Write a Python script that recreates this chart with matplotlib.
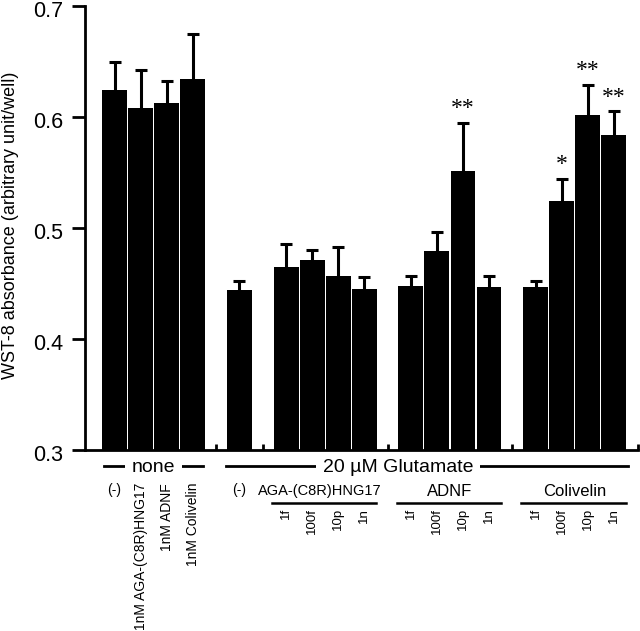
import numpy as np
from matplotlib import pyplot as plt
from matplotlib.transforms import ScaledTranslation

# --- data ---------------------------------------------------------
none_means = [0.624, 0.608, 0.613, 0.634]
none_errs = [0.026, 0.034, 0.019, 0.041]
none_labels = ['(-)', '1nM AGA-(C8R)HNG17', '1nM ADNF', '1nM Colivelin']

glu_mean = [0.444]
glu_err = [0.008]

aga_means = [0.465, 0.471, 0.457, 0.445]
aga_errs = [0.021, 0.009, 0.026, 0.011]
adnf_means = [0.448, 0.479, 0.551, 0.447]
adnf_errs = [0.009, 0.017, 0.044, 0.010]
col_means = [0.447, 0.524, 0.602, 0.584]
col_errs = [0.005, 0.020, 0.027, 0.021]
doses = ['1f', '100f', '10p', '1n']
peptides = ['AGA-(C8R)HNG17', 'ADNF', 'Colivelin']

adnf_sig = ['', '', '**', '']
col_sig = ['', '*', '**', '**']

# --- layout -------------------------------------------------------
gap = 1.8
groups = [none_means, glu_mean, aga_means, adnf_means, col_means]
errs = [none_errs, glu_err, aga_errs, adnf_errs, col_errs]
pos = []
start = 0.0
for g in groups:
    pos.append(start + np.arange(len(g)))
    start = pos[-1][-1] + gap
allx = np.concatenate(pos)
ally = np.concatenate(groups)
alle = np.concatenate(errs)

plt.rcParams['font.family'] = ['Liberation Sans', 'DejaVu Sans']
fig = plt.figure(figsize=(6.4, 6.31), dpi=100, facecolor='w')
ax = fig.add_axes([85/640, 1-450/631, (638-85)/640, 444/631])

ax.errorbar(allx, ally, yerr=alle, fmt='none', ecolor='k', elinewidth=2.2,
            capsize=4, capthick=2.2, zorder=1)
ax.bar(allx, ally - 0.3, bottom=0.3, width=0.96, color='k', zorder=2)

ax.set_ylim(0.3, 0.7)
ax.set_xlim(-1.135, 20.13)
ax.set_yticks([0.3, 0.4, 0.5, 0.6, 0.7])
ax.set_yticklabels(['0.3', '0.4', '0.5', '0.6', '0.7'], fontsize=15.5)
ax.tick_params(axis='y', length=9.5, width=2, direction='out', pad=6)
# labels sit a few pixels below their ticks in the original
shift = ScaledTranslation(0, -3/100, fig.dpi_scale_trans)
for lab in ax.get_yticklabels():
    lab.set_transform(lab.get_transform() + shift)
bounds = [(pos[i][-1] + pos[i+1][0]) / 2 for i in range(len(pos)-1)] + [20.13]
ax.set_xticks(bounds)
ax.set_xticklabels([])
ax.tick_params(axis='x', length=4, width=2, direction='in')
for s in ['top', 'right']:
    ax.spines[s].set_visible(False)
ax.spines['left'].set_linewidth(2)
ax.spines['bottom'].set_linewidth(2)
ax.set_ylabel('WST-8 absorbance (arbitrary unit/well)', fontsize=13)
ax.yaxis.set_label_coords(-0.12, 0.507)

# significance stars
for xs, ms, es, sig in [(pos[3], adnf_means, adnf_errs, adnf_sig),
                        (pos[4], col_means, col_errs, col_sig)]:
    for x, m, e, s in zip(xs, ms, es, sig):
        if s:
            ax.text(x, m + e + 0.013, s, ha='center', va='center',
                    fontsize=17, family='Liberation Serif')

# --- labels under the axis -----------------------------------------
tr = ax.get_xaxis_transform()
box = dict(facecolor='white', edgecolor='none', pad=5)

ax.plot([pos[0][0]-0.4, pos[0][-1]+0.4], [-0.036, -0.036], color='k', lw=2,
        transform=tr, clip_on=False)
ax.text(pos[0].mean(), -0.039, 'none', ha='center', va='center', fontsize=14,
        transform=tr, bbox=box)
ax.plot([pos[1][0]-0.5, pos[4][-1]+0.55], [-0.036, -0.036], color='k', lw=2,
        transform=tr, clip_on=False)
ax.text(10.9, -0.039, '20 µM Glutamate', ha='center', va='center', fontsize=14,
        transform=tr, bbox=box)

ax.text(pos[0][0], -0.09, none_labels[0], ha='center', va='center',
        fontsize=10, transform=tr)
for x, lab in zip(pos[0][1:], none_labels[1:]):
    ax.text(x, -0.074, lab, ha='center', va='top', rotation=90, fontsize=10,
            transform=tr)
ax.text(pos[1][0], -0.09, '(-)', ha='center', va='center', fontsize=10,
        transform=tr)

for i, name in enumerate(peptides):
    xs = pos[2 + i]
    fs = 10.5 if i == 0 else 12
    ax.text(xs.mean() - 0.2 * (i == 0), -0.093, name, ha='center',
            va='center', fontsize=fs, transform=tr)
    ax.plot([xs[0]-0.55, xs[-1]+0.45], [-0.119, -0.119], color='k', lw=1.8,
            transform=tr, clip_on=False)
    for x, d in zip(xs, doses):
        ax.text(x, -0.131, d, ha='center', va='top', rotation=90,
                fontsize=9.5, transform=tr)

plt.savefig('out.png', dpi=100)
